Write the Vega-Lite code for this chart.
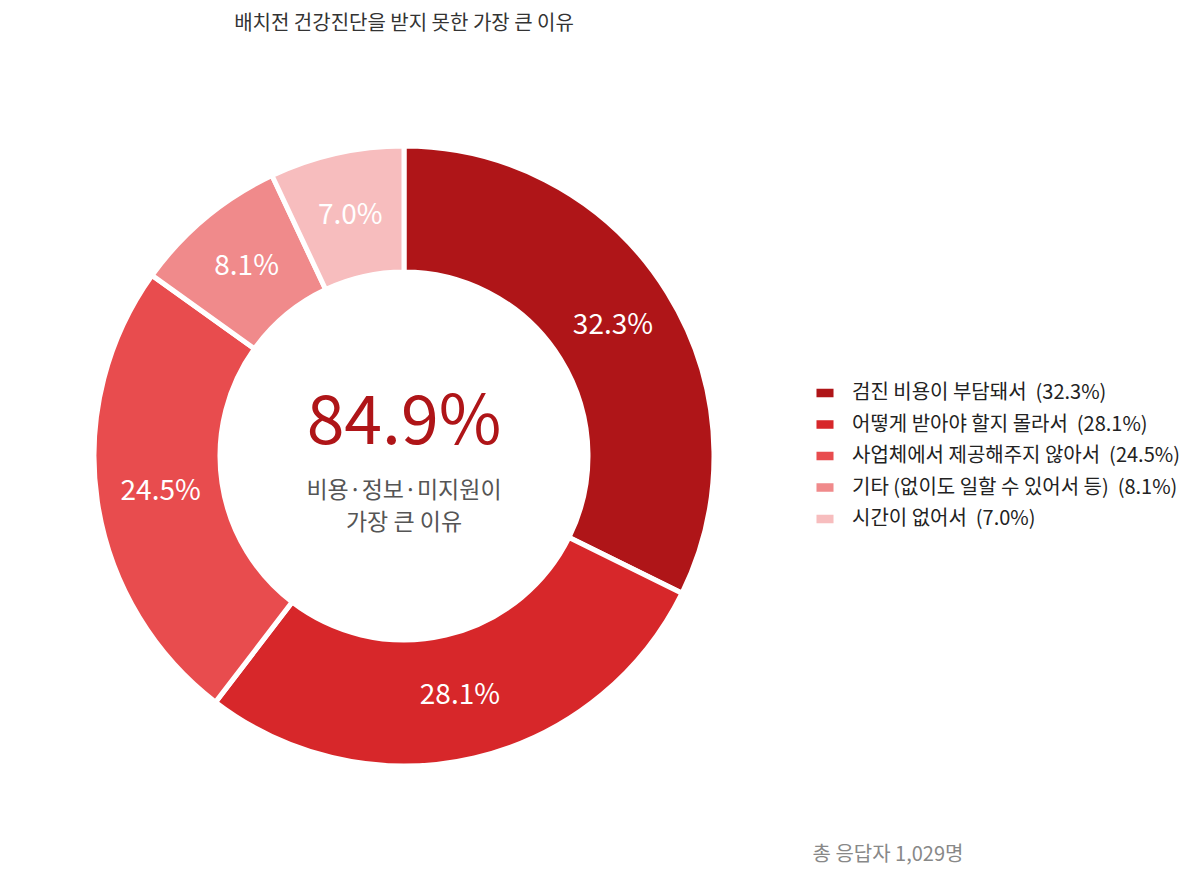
{
  "$schema": "https://vega.github.io/schema/vega-lite/v6.json",
  "width": 808,
  "height": 912,
  "padding": 0,
  "background": "white",
  "title": {
    "text": "배치전 건강진단을 받지 못한 가장 큰 이유",
    "anchor": "middle",
    "fontSize": 20,
    "fontWeight": "normal",
    "color": "#333333",
    "offset": -34
  },
  "data": {
    "values": [
      {"reason": "검진 비용이 부담돼서", "pct": 32.3, "order": 1},
      {"reason": "어떻게 받아야 할지 몰라서", "pct": 28.1, "order": 2},
      {"reason": "사업체에서 제공해주지 않아서", "pct": 24.5, "order": 3},
      {"reason": "기타 (없이도 일할 수 있어서 등)", "pct": 8.1, "order": 4},
      {"reason": "시간이 없어서", "pct": 7.0, "order": 5}
    ]
  },
  "transform": [
    {"calculate": "datum.reason + ' \u00a0(' + format(datum.pct, '.1f') + '%)'", "as": "legendLabel"},
    {"calculate": "format(datum.pct, '.1f') + '%'", "as": "label"}
  ],
  "encoding": {
    "theta": {"field": "pct", "type": "quantitative", "stack": true},
    "order": {"field": "order", "type": "quantitative"}
  },
  "layer": [
    {
      "mark": {"type": "arc", "innerRadius": 184, "outerRadius": 310, "stroke": "white", "strokeWidth": 5},
      "encoding": {
        "color": {
          "field": "legendLabel",
          "type": "nominal",
          "sort": {"field": "order"},
          "scale": {"range": ["#AF1518", "#D7272A", "#E84C4E", "#F08A8B", "#F7BDBE"]},
          "legend": {
            "title": null,
            "orient": "none",
            "legendX": 815,
            "legendY": 383,
            "symbolType": "M-1,-0.5H1V0.5H-1Z",
            "symbolSize": 290,
            "symbolStrokeWidth": 0,
            "labelFontSize": 20,
            "labelColor": "#222222",
            "labelOffset": 17,
            "rowPadding": 11.5,
            "labelLimit": 400
          }
        }
      }
    },
    {
      "mark": {"type": "text", "radius": 246, "fontSize": 28, "color": "white"},
      "encoding": {"text": {"field": "label"}}
    },
    {
      "transform": [{"filter": "datum.order == 1"}],
      "mark": {"type": "text", "text": "84.9%", "fontSize": 68, "color": "#AF1518", "dy": -32},
      "encoding": {}
    },
    {
      "transform": [{"filter": "datum.order == 1"}],
      "mark": {"type": "text", "text": ["비용·정보·미지원이", "가장 큰 이유"], "fontSize": 23, "color": "#555555", "dy": 35, "lineHeight": 32},
      "encoding": {}
    },
    {
      "transform": [{"filter": "datum.order == 1"}],
      "mark": {"type": "text", "text": "총 응답자 1,029명", "fontSize": 20, "color": "#888888", "x": 888, "y": 855},
      "encoding": {}
    }
  ],
  "config": {
    "font": "Noto Sans CJK KR",
    "view": {"stroke": null}
  }
}
